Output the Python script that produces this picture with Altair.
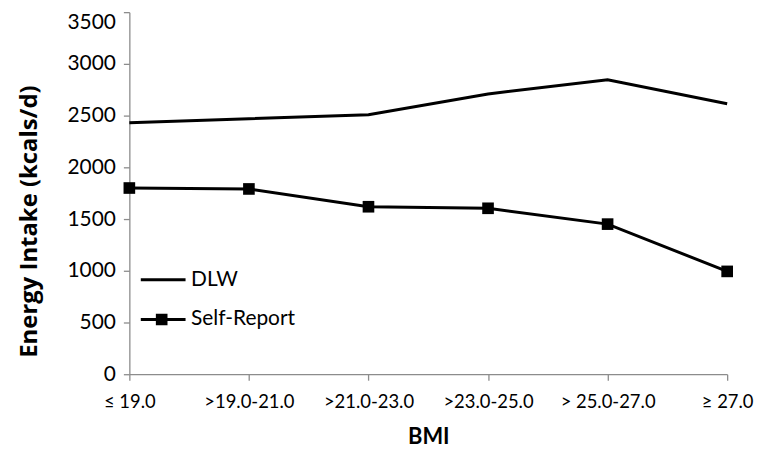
import altair as alt
import pandas as pd

categories = ["≤ 19.0", ">19.0-21.0", ">21.0-23.0", ">23.0-25.0", "> 25.0-27.0", "≥ 27.0"]
dlw = [2432, 2470, 2508, 2709, 2847, 2614]
self_report = [1800, 1791, 1619, 1604, 1451, 994]
series_names = ["DLW", "Self-Report"]

rows = []
for c, v in zip(categories, dlw):
    rows.append({"BMI": c, "value": v, "series": "DLW"})
for c, v in zip(categories, self_report):
    rows.append({"BMI": c, "value": v, "series": "Self-Report"})
df = pd.DataFrame(rows)

FONT = "Lato"
GRAY = "#8c8c8c"

x = alt.X("BMI:N", sort=categories, scale=alt.Scale(padding=0),
          axis=alt.Axis(title="BMI", labelAngle=0, tickSize=6, tickColor=GRAY,
                        domainColor=GRAY, domainWidth=1.3, tickWidth=1.3,
                        labelFontSize=18.5, labelFont=FONT, labelColor="#000",
                        labelPadding=12, titleFontSize=22, titleFont=FONT,
                        titleFontWeight="bold", titleColor="#000", titlePadding=16))
y = alt.Y("value:Q", scale=alt.Scale(domain=[0, 3500], nice=False),
          axis=alt.Axis(title="Energy Intake (kcals/d)", values=list(range(0, 3501, 500)),
                        format="d", grid=False, tickSize=6, tickColor=GRAY, domainColor=GRAY,
                        domainWidth=1.3, tickWidth=1.3,
                        labelFontSize=21, labelFont=FONT, labelColor="#000", labelPadding=8,
                        labelOffset={"condition": {"test": "datum.value == 3500", "value": 10},
                                     "value": 0},
                        titleFontSize=24, titleFont="Open Sans", titleFontWeight="bold",
                        titleColor="#000", titleAngle=-90, titleAlign="center",
                        titleBaseline="middle", titleX=-100, titleY=210))

LEG = dict(title=None, orient="none", legendX=10, legendY=259, symbolSize=2025,
           labelFontSize=21, labelFont=FONT, labelOffset=4, clipHeight=20, rowPadding=19)

base = alt.Chart(df)

lines = base.mark_line(strokeWidth=3).encode(
    x=x, y=y,
    color=alt.Color("series:N",
                    scale=alt.Scale(domain=series_names, range=["black", "black"]),
                    legend=alt.Legend(symbolType="stroke", symbolStrokeWidth=3,
                                      labelColor="#000", **LEG)))

# squares: DLW gets an empty path, Self-Report a filled square
path_none = "M0,0"
path_sq = "M-0.26,-0.26H0.26V0.26H-0.26Z"

squares = base.mark_point(filled=True, size=2025, color="black", opacity=1).encode(
    x=x, y=y,
    shape=alt.Shape("series:N",
                    scale=alt.Scale(domain=series_names, range=[path_none, path_sq]),
                    legend=alt.Legend(labelExpr="''", symbolFillColor="black",
                                      symbolStrokeWidth=0, **LEG)))

chart = alt.layer(lines, squares).properties(
    width=601, height=364,
    autosize=alt.AutoSizeParams(type="none"),
    padding={"left": 122, "top": 3, "right": 30, "bottom": 74},
).resolve_legend(color="independent", shape="independent").configure_view(stroke=None)

chart.save("out.html", embed_options={"renderer": "svg", "actions": False})
